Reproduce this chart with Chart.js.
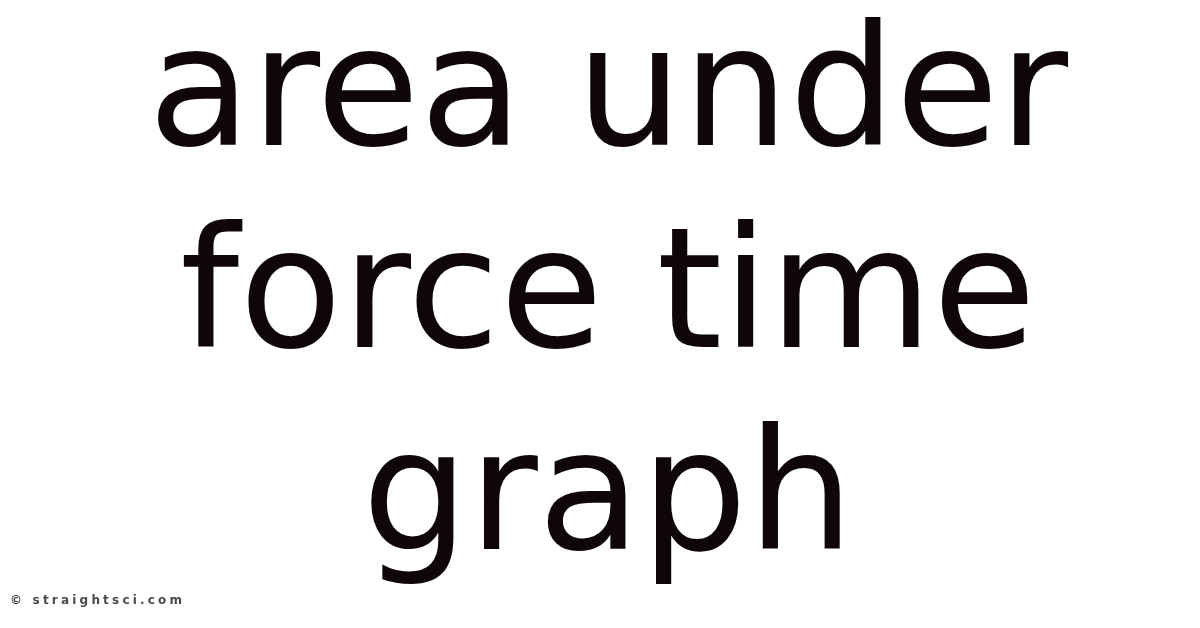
<!DOCTYPE html>
<html>
<head>
<meta charset="utf-8">
<script src="https://cdn.jsdelivr.net/npm/chart.js@4"></script>
<style>
  html, body { margin: 0; padding: 0; background: #ffffff; overflow: hidden; }
  #wrap { position: absolute; left: 0; top: 0; width: 1200px; height: 628px; }
</style>
</head>
<body>
<div id="wrap"><canvas id="chart"></canvas></div>
<script>
// the picture holds only a headline, no plotted values
const headline = ["area under", "force time", "graph"];
const credit = "\u00a9 straightsci.com";
const labels = [];
const values = [];

// small credit line in the bottom-left corner, spaced out
const creditPlugin = {
    id: "credit",
    afterDraw(chart) {
        const ctx = chart.ctx;
        ctx.save();
        ctx.font = "bold 12px 'DejaVu Sans'";
        ctx.fillStyle = "#4a4a4a";
        ctx.textAlign = "left";
        ctx.textBaseline = "middle";
        ctx.letterSpacing = "3.2px";
        ctx.fillText(credit, 10, 601);
        ctx.restore();
    },
};

const config = {
    type: "line",
    data: {
        labels: labels,
        datasets: [{ data: values }],
    },
    options: {
        responsive: true,
        maintainAspectRatio: false,
        animation: false,
        layout: { padding: { top: 0, bottom: 0, left: 16, right: 0 } },
        scales: {
            x: { display: false },
            y: { display: false },
        },
        plugins: {
            legend: { display: false },
            tooltip: { enabled: false },
            title: {
                display: true,
                text: headline,
                color: "#0f0707",
                font: { family: "DejaVu Sans", size: 168, weight: "normal", lineHeight: 1.203 },
                padding: { top: 0, bottom: 0 },
            },
        },
    },
    plugins: [creditPlugin],
};

new Chart(document.getElementById("chart"), config);
</script>
</body>
</html>
